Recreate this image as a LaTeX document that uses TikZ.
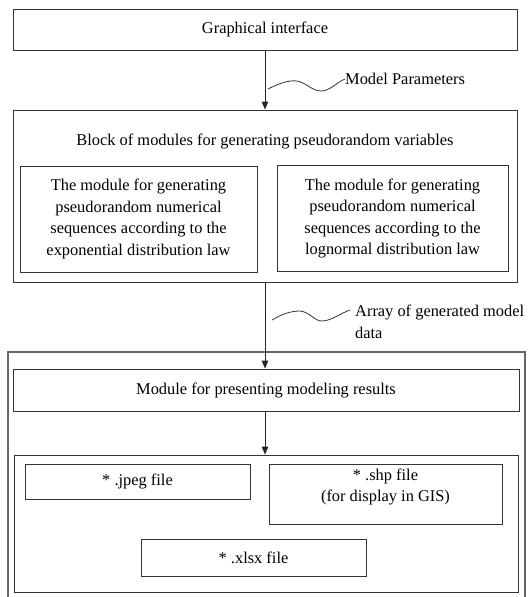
\documentclass[tikz,border=0pt]{standalone}
\usepackage{fontspec}
\setmainfont{Liberation Serif}
\usetikzlibrary{arrows.meta}
\begin{document}
\begin{tikzpicture}[x=1pt,y=-1pt,
  txt/.style={font=\fontsize{16.4}{21.5}\selectfont, align=center, inner sep=0pt},
  box/.style={txt, draw=black!80, line width=0.9pt},
  arr/.style={draw=black!85, line width=0.9pt, -{Triangle[width=6.5pt,length=8pt]}},
  wave/.style={draw=black!80, line width=0.8pt},
  outerline/.style={draw=black!60, line width=1.2pt}]
\useasboundingbox (0,0) rectangle (529,597);

% top box
\node[box, minimum width=504pt, minimum height=41pt] (gui) at (265,29.5) {Graphical interface};

% block of modules
\node[box, minimum width=504pt, minimum height=172pt] (block) at (265,196) {};
\node[txt] (blocktitle) at (265,141) {Block of modules for generating pseudorandom variables};
\node[box, minimum width=237pt, minimum height=106pt] (expo) at (138.5,219)
  {The module for generating\\pseudorandom numerical\\sequences according to the\\exponential distribution law};
\node[box, minimum width=231pt, minimum height=106pt] (logn) at (392.5,218.5)
  {The module for generating\\pseudorandom numerical\\sequences according to the\\lognormal distribution law};

% arrow 1 with label
\draw[arr] (gui.south) -- (block.north);
\node[txt, anchor=west] (mp) at (345,79) {Model Parameters};
\coordinate (w1) at (268,89);
\draw[wave] (w1) .. controls (280,83) and (289,80) .. (297,81)
  .. controls (307,83) and (312,91) .. (321,91)
  .. controls (330,91) and (337,82) .. (mp.west);

% outer results container
\draw[outerline] (8,600) |- (525,352) -- (525,600);

% module for presenting
\node[box, minimum width=506pt, minimum height=42pt] (present) at (266,390) {Module for presenting modeling results};

% arrow 2 with label
\draw[arr] (block.south) -- (block.south |- present.north);
\node[txt, anchor=west, align=left] (arrlabel) at (355,322) {Array of generated model\\data};
\coordinate (w2) at (272,320);
\coordinate (w2e) at (350,310);
\draw[wave] (w2) .. controls (282,314) and (291,311) .. (300,311)
  .. controls (310,312) and (314,321) .. (322,321)
  .. controls (331,321) and (341,313) .. (w2e);

% lower box with files
\node[box, minimum width=504pt, minimum height=137pt] (files) at (266,523.5) {};
\draw[arr] (present.south -| gui.south) -- (files.north -| gui.south);

\node[box, minimum width=225pt, minimum height=35pt] (jpeg) at (137.5,481.5) {* .jpeg file};
\node[box, minimum width=233pt, minimum height=60pt] (shp) at (385.5,494) {};
\node[txt] (shptext) at (385.5,487) {* .shp file\\(for display in GIS)};
\node[box, minimum width=225pt, minimum height=37pt] (xlsx) at (253.5,557.5) {* .xlsx file};
\end{tikzpicture}
\end{document}
